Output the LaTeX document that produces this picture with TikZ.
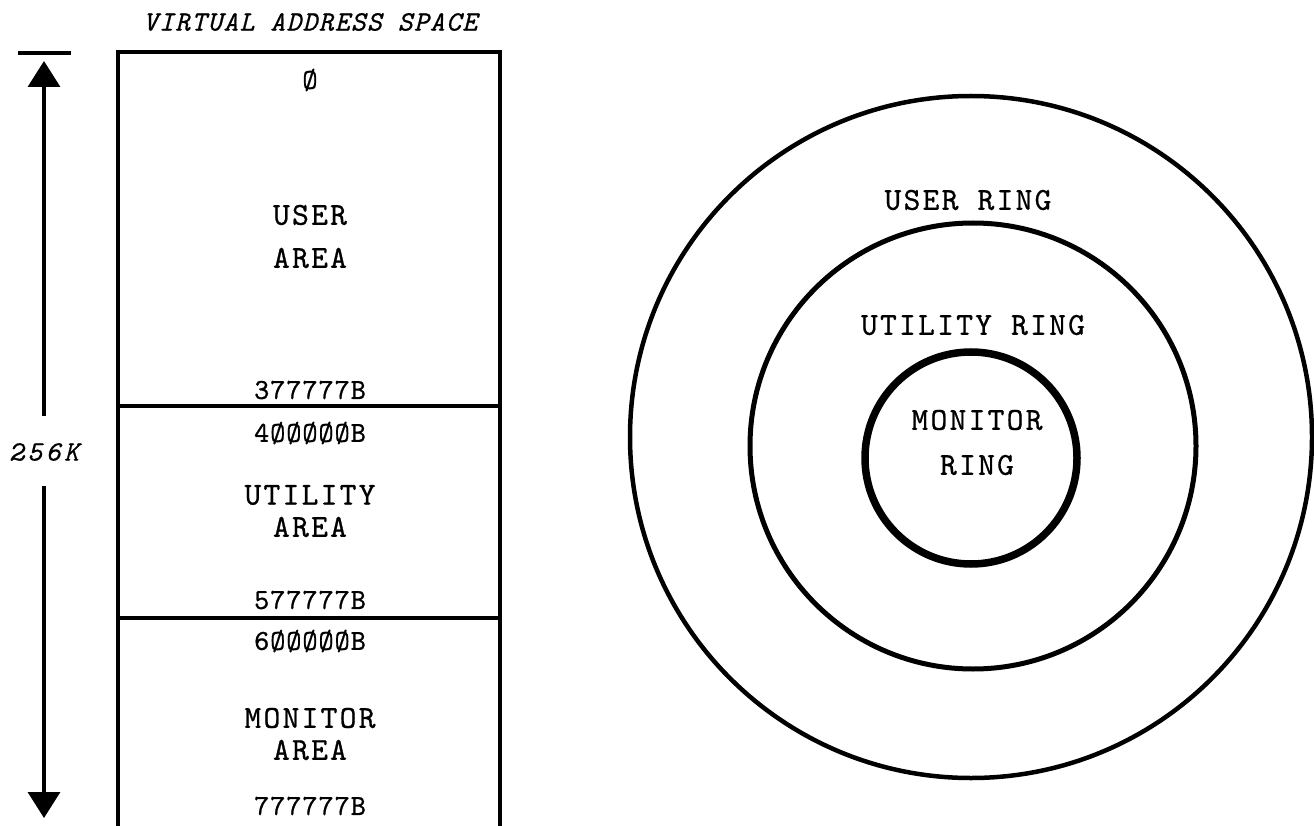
\documentclass[tikz,border=0pt]{standalone}
\usepackage{fontspec}
\setmonofont{lmmono10-regular}[Extension=.otf, ItalicFont=lmmono10-italic, FakeBold=0.7]
\usetikzlibrary{arrows.meta}
\begin{document}
\begin{tikzpicture}[x=1pt,y=-1pt,
  word/.style={font=\ttfamily\fontsize{32}{36}\selectfont\addfontfeature{LetterSpace=7}, inner sep=0pt},
  num/.style={font=\ttfamily\fontsize{29}{32}\selectfont\addfontfeature{LetterSpace=3}, inner sep=0pt},
  rword/.style={font=\ttfamily\fontsize{32}{36}\selectfont\addfontfeature{LetterSpace=7}, inner sep=0pt},
  ring/.style={circle, draw, inner sep=0pt, outer sep=0pt},
  wall/.style={line width=4.5pt},
  sizearrow/.style={line width=3.5pt, -{Triangle[width=32pt,length=26pt]}}]
\useasboundingbox (0,0) rectangle (1314,826);
\fill[white] (0,0) rectangle (1314,826);
% title
\node[font=\ttfamily\itshape\fontsize{28}{32}\selectfont\addfontfeature{LetterSpace=5}, inner sep=0pt] (title) at (310,22) {VIRTUAL ADDRESS SPACE};
% box
\draw[wall] (118,830) -- (118,52) -- (500,52) -- (500,830);
\draw[line width=3.5pt] (118,406) -- (500,406);
\draw[line width=3.5pt] (118,618) -- (500,618);
% box texts
\node[num] (zero) at (310,80) {Ø};
\node[word] (u1) at (310,215) {USER};
\node[word] (u2) at (310,258) {AREA};
\node[num] (a1) at (310,390) {377777B};
\node[num] (a2) at (310,433) {4ØØØØØB};
\node[word] (t1) at (310,495) {UTILITY};
\node[word] (t2) at (310,527) {AREA};
\node[num] (a3) at (310,600) {577777B};
\node[num] (a4) at (310,641) {6ØØØØØB};
\node[word] (m1) at (310,718) {MONITOR};
\node[word] (m2) at (310,750) {AREA};
\node[num] (a5) at (310,806) {777777B};
% size arrow
\draw[line width=4pt] (18,53) -- (71,53);
\node[font=\ttfamily\itshape\fontsize{28}{30}\selectfont\addfontfeature{LetterSpace=13}, inner sep=0pt] (k) at (44,452) {256K};
\coordinate (uptip) at (44,61);
\coordinate (dntip) at (44,818);
\coordinate (upstart) at (44,416);
\coordinate (dnstart) at (44,486);
\draw[sizearrow] (upstart) -- (uptip);
\draw[sizearrow] (dnstart) -- (dntip);
% rings
\node[ring, minimum size=682pt, line width=4.5pt] (outer) at (971,437) {};
\node[ring, minimum size=446pt, line width=5pt] (middle) at (973,446) {};
\node[ring, minimum size=212pt, line width=7.5pt] (inner) at (971,458) {};
\node[rword] (ur) at (968,200) {USER RING};
\node[rword] (tr) at (973,325) {UTILITY RING};
\node[rword] (mr1) at (977,420) {MONITOR};
\node[rword] (mr2) at (977,465) {RING};
\end{tikzpicture}
\end{document}
